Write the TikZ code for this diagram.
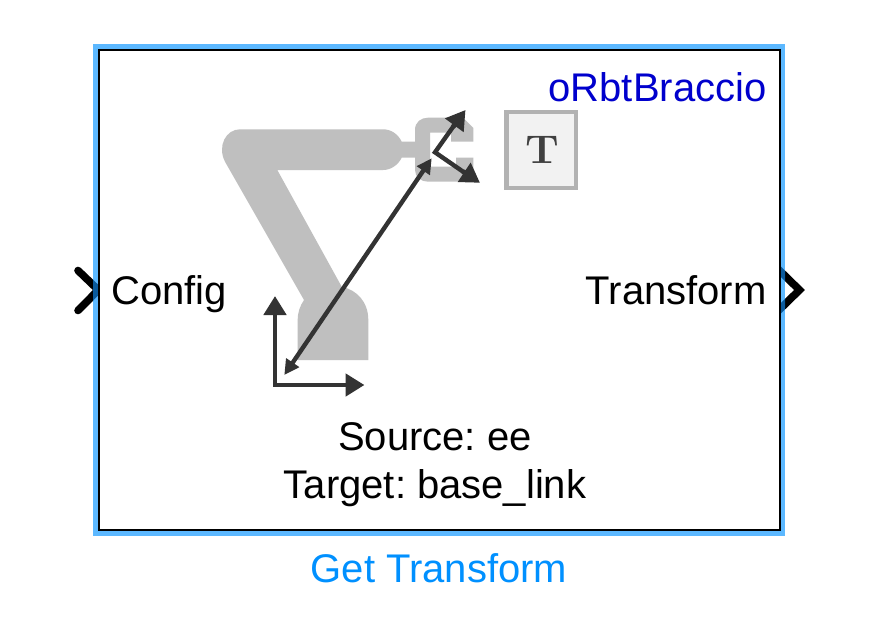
\documentclass[tikz,border=0pt]{standalone}
\usepackage{fontspec}
\setmainfont{Liberation Sans}
\newfontfamily\lmfont{Latin Modern Roman}
\usetikzlibrary{arrows.meta}
\definecolor{blockblue}{HTML}{5CB8FF}
\definecolor{darkport}{HTML}{0A5A9C}
\definecolor{armgrey}{HTML}{BFBFBF}
\definecolor{axisgrey}{HTML}{333333}
\definecolor{namecol}{HTML}{0000CD}
\definecolor{titlecol}{HTML}{0090FF}
\tikzset{
  lbl/.style={inner sep=0pt,outer sep=0pt,font=\fontsize{40}{40}\selectfont},
  armfill/.style={fill=armgrey,draw=none},
  chev/.style={line width=7.6pt},
  bigaxis/.style={draw=axisgrey,line width=4.8pt,-{Triangle[length=19pt,width=22pt]}},
  smallaxis/.style={draw=axisgrey,line width=4.4pt,{Triangle[length=15pt,width=15pt]}-{Triangle[length=15pt,width=15pt]}},
}
\begin{document}
\frenchspacing
\begin{tikzpicture}[x=1pt,y=-1pt]
\useasboundingbox (0,0) rectangle (876,626);
% ports under the block frame
\draw[chev,line cap=round,line join=miter,black] (78,270.5) -- (98.3,290) -- (78,310.5);
\draw[chev,line cap=butt,line join=miter,black] (778,269) -- (799.5,290) -- (778,311);
% frame
\fill[blockblue] (93,44) rectangle (785,536);
\begin{scope}
\clip (93,44) rectangle (785,536);
\draw[chev,line cap=round,line join=miter,darkport] (78,270.5) -- (98.3,290) -- (78,310.5);
\draw[chev,line cap=butt,line join=miter,darkport] (778,269) -- (799.5,290) -- (778,311);
\end{scope}
\fill[black] (98,48.7) rectangle (780.5,531);
\fill[white] (100,50.7) rectangle (778.5,529);
% arm
\path[armfill] (240,129.3) -- (383,129.3) .. controls (391,129.3) and (398,134) .. (401.7,141.7)
  -- (415,141.7) -- (415,157.7) -- (401.7,157.7) .. controls (398,165) and (391,170) .. (383,170)
  -- (277.3,170) -- (341.7,286.7) .. controls (357,290) and (368.3,302) .. (368.3,320)
  -- (368.3,360) -- (297.7,360) -- (297.7,320) .. controls (297.7,312) and (300,306) .. (304,300)
  -- (225,161.7) .. controls (217,146) and (226,129.3) .. (240,129.3) -- cycle;
% gripper
\path[armfill] (415,130) .. controls (415,122) and (421,117.7) .. (428,117.7) -- (463,117.7)
  -- (473.3,128) -- (473.3,141.7) -- (451,141.7) -- (451,132.7) -- (430,132.7)
  -- (430,166.7) -- (456,166.7) -- (456,157.7) -- (473.3,157.7) -- (473.3,170)
  -- (461,181.7) -- (428,181.7) .. controls (421,181.7) and (415,177) .. (415,170) -- cycle;
% axes
\coordinate (baseO) at (275,385);
\coordinate (baseY) at (275,296);
\coordinate (baseX) at (364.5,385);
\coordinate (linkA) at (284.3,375);
\coordinate (linkB) at (431.7,158.3);
\coordinate (eeO) at (435,152.3);
\coordinate (eeU) at (465.5,110);
\coordinate (eeR) at (480,182.8);
\draw[axisgrey,line width=4.8pt,line join=miter] (275,310) -- (baseO) -- (350,385);
\draw[bigaxis] (275,314) -- (baseY);
\draw[bigaxis] (346,385) -- (baseX);
\draw[smallaxis] (linkA) -- (linkB);
\draw[axisgrey,line width=4.4pt,line join=miter] (456.5,122) -- (eeO) -- (465,173);
\draw[bigaxis] (453,127) -- (eeU);
\draw[bigaxis] (463,171.5) -- (eeR);
% T badge
\node[draw=black!30,fill=black!5,line width=4.4pt,minimum width=69.6pt,minimum height=75.6pt,inner sep=0pt,anchor=center] (badge) at (541.2,150) {};
\node[inner sep=0pt,text=black!75,anchor=center,xscale=1.08] (badgeT) at (542,150) {\lmfont\fontsize{40}{40}\selectfont\bfseries T};
% labels
\node[lbl,anchor=base east,text=namecol] (robot) at (766.5,102) {oRbtBraccio};
\node[lbl,anchor=base west] (config) at (111.5,304) {Config};
\node[lbl,anchor=base east] (transform) at (766.5,304) {Transform};
\node[lbl,anchor=base] (source) at (435,450) {Source: ee};
\node[lbl,anchor=base] (target) at (435,498) {Target: base\_link};
\node[lbl,anchor=base,text=titlecol] (title) at (439,582) {Get Transform};
\end{tikzpicture}
\end{document}
